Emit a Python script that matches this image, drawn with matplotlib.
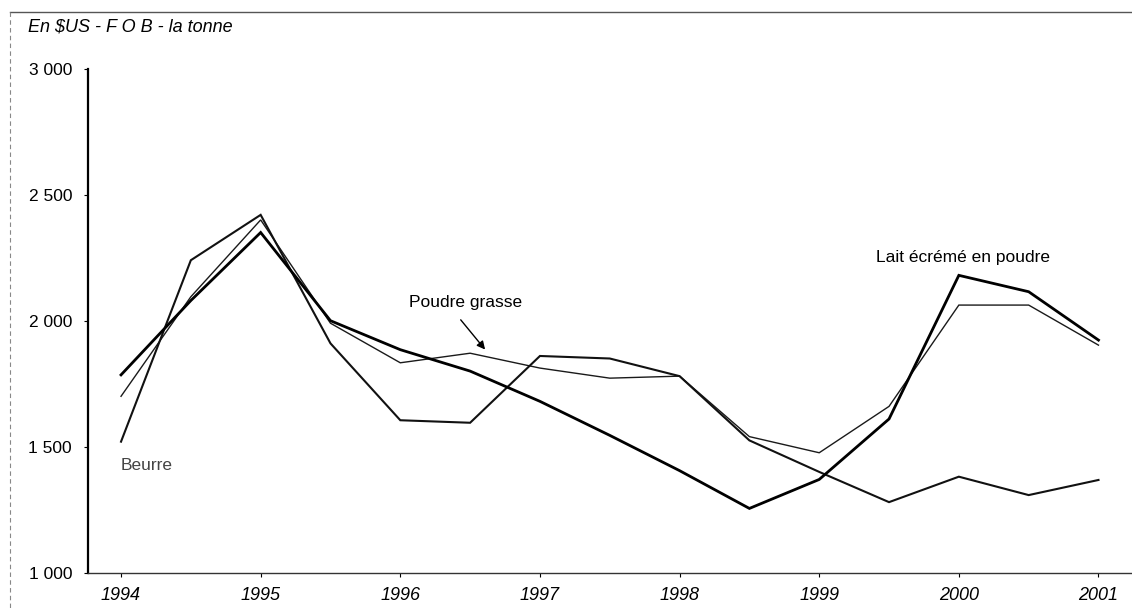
import matplotlib
matplotlib.use("Agg")
import matplotlib.pyplot as plt
from matplotlib.lines import Line2D

plt.rcParams['font.family'] = ['Liberation Sans', 'DejaVu Sans']

# Half-yearly observations, 1994 -> 2001
periodes = [1994, 1994.5, 1995, 1995.5, 1996, 1996.5, 1997, 1997.5,
            1998, 1998.5, 1999, 1999.5, 2000, 2000.5, 2001]
lait_ecreme = [1785, 2080, 2350, 2000, 1885, 1800, 1680, 1545,
               1405, 1255, 1370, 1610, 2180, 2115, 1923]
poudre_grasse = [1700, 2095, 2400, 1990, 1833, 1871, 1812, 1772,
                 1780, 1540, 1476, 1660, 2062, 2062, 1903]
beurre = [1520, 2240, 2420, 1910, 1605, 1595, 1860, 1850,
          1780, 1525, 1400, 1280, 1381, 1308, 1368]

annees = [1994, 1995, 1996, 1997, 1998, 1999, 2000, 2001]
annee_labels = ["1994", "1995", "1996", "1997", "1998", "1999", "2000", "2001"]
y_ticks = [1000, 1500, 2000, 2500, 3000]
y_labels = ["1 000", "1 500", "2 000", "2 500", "3 000"]

W, H = 1132, 608
fig = plt.figure(figsize=(W / 100, H / 100), dpi=100)
fig.patch.set_facecolor("white")

ax_left, ax_right = 88, 1132
ax_top, ax_bottom = 68.7, 572.7
ax = fig.add_axes([ax_left / W, 1 - ax_bottom / H,
                   (ax_right - ax_left) / W, (ax_bottom - ax_top) / H])

ax.plot(periodes, poudre_grasse, color="#1a1a1a", lw=1.0, solid_joinstyle="miter")
ax.plot(periodes, beurre, color="#111111", lw=1.5, solid_joinstyle="miter")
ax.plot(periodes, lait_ecreme, color="#000000", lw=2.0, solid_joinstyle="miter")

ax.set_xlim(1993.7635, 2001.24)
ax.set_ylim(1000, 3000)

for s in ("top", "right"):
    ax.spines[s].set_visible(False)
ax.spines["left"].set_linewidth(1.6)
ax.spines["bottom"].set_linewidth(1.0)
ax.spines["bottom"].set_color("#333333")

ax.set_yticks(y_ticks)
ax.set_yticklabels(y_labels, fontsize=12.5)
ax.set_xticks(annees)
ax.set_xticklabels(annee_labels, fontsize=13, style="italic")
ax.tick_params(axis="y", length=3, width=0.8, pad=8.5)
ax.tick_params(axis="x", length=3, width=0.8, pad=7)

# Unit header
fig.text(28 / W, 1 - 27 / H, "En $US - F O B - la tonne", fontsize=13,
         style="italic", va="center", ha="left")

# Series labels
ax.text(1994, 1427, "Beurre", fontsize=12.5, color="#444444", va="center", ha="left")
ax.text(1996.47, 2071, "Poudre grasse", fontsize=12.5, va="center", ha="center")
ax.annotate("", xy=(1996.62, 1877), xytext=(1996.42, 2012),
            arrowprops=dict(arrowstyle="-|>", color="black", lw=1.0,
                            mutation_scale=12))
ax.text(1999.41, 2249, "Lait écrémé en poudre", fontsize=12.5, va="center", ha="left")

# Scan frame (top and left border)
fig.add_artist(Line2D([10 / W, 1.0], [1 - 12 / H, 1 - 12 / H], color="#555555", lw=1.0))
fig.add_artist(Line2D([10 / W, 10 / W], [1 - 12 / H, 0.0], color="#888888", lw=0.8,
                      linestyle=(0, (4, 3))))

fig.savefig("out.png", dpi=100, facecolor="white")
